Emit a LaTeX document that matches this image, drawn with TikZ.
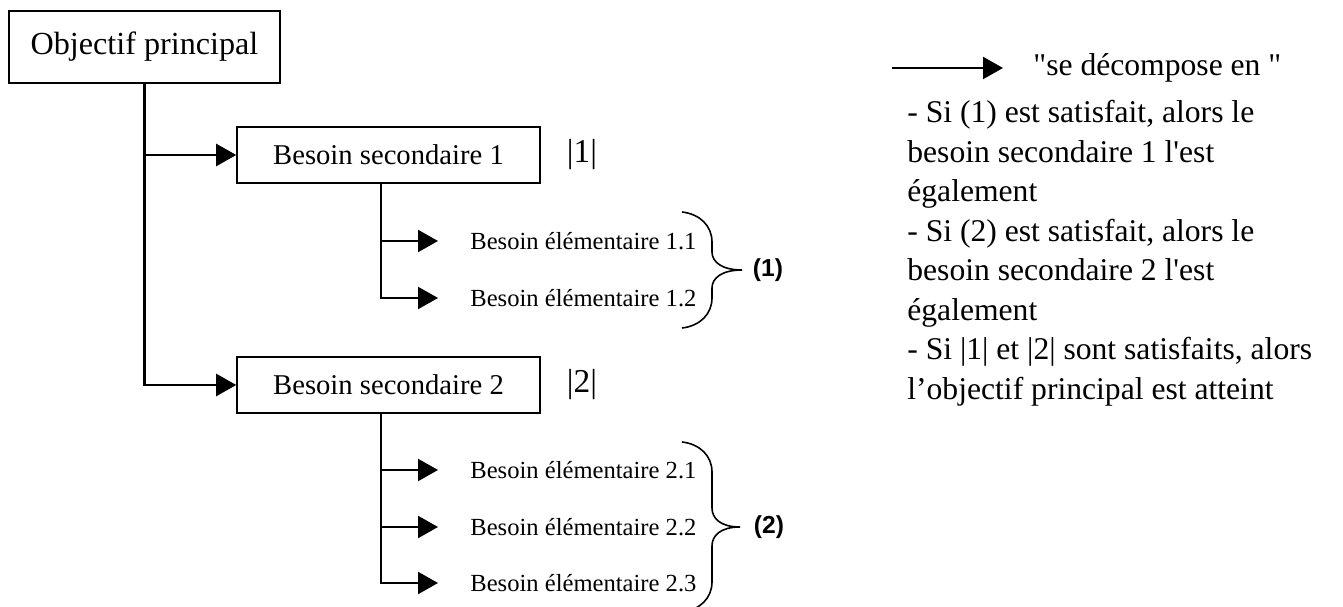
\documentclass[tikz,border=0pt]{standalone}
\usepackage{fontspec}
\setmainfont{Liberation Serif}
\newfontfamily\sansarial{Liberation Sans}
\usetikzlibrary{arrows.meta,positioning}

\tikzset{
   boite/.style = {draw, line width=0.9pt, minimum width=6.06cm, minimum height=1.12cm,
      font=\fontsize{16.3}{19.5}\selectfont},
   fleche/.style = {line width=1.3pt, -{Triangle[length=0.4cm, width=0.44cm]}},
   elem/.style = {anchor=west, inner sep=0pt, font=\fontsize{14}{17}\selectfont},
   accolade/.style = {line width=0.9pt},
   renvoi/.style = {font=\sansarial\bfseries\fontsize{14}{17}\selectfont},
   valeur/.style = {font=\fontsize{19}{22}\selectfont},
}

\begin{document}
\begin{tikzpicture}[x = 0.02cm, y = -0.02cm]
   \useasboundingbox (0,0) rectangle (1343,607);
   \node[boite, minimum width=5.42cm, minimum height=1.44cm, font=\fontsize{18.3}{22}\selectfont] (obj) at (144.5,47) {Objectif principal};
   \node[boite] (bs1) at (388.5,155) {Besoin secondaire 1};
   \node[boite] (bs2) at (388.5,385) {Besoin secondaire 2};
   \node[valeur] (v1) at (582,155) {|1|};
   \node[valeur] (v2) at (582,385) {|2|};
   \node[elem] (be11) at (470,241) {Besoin élémentaire 1.1};
   \node[elem] (be12) at (470,298) {Besoin élémentaire 1.2};
   \node[elem] (be21) at (470,470) {Besoin élémentaire 2.1};
   \node[elem] (be22) at (470,527) {Besoin élémentaire 2.2};
   \node[elem] (be23) at (470,583) {Besoin élémentaire 2.3};
   \node[renvoi] (r1) at (768,270) {(1)};
   \node[renvoi] (r2) at (769,527) {(2)};
   \draw[fleche] (obj) |- (bs1);
   \draw[fleche] (obj) |- (bs2);
   \draw[fleche] ([xshift=-0.15cm]bs1.south) |- ([xshift=-0.64cm]be11.west);
   \draw[fleche] ([xshift=-0.15cm]bs1.south) |- ([xshift=-0.64cm]be12.west);
   \draw[fleche] ([xshift=-0.15cm]bs2.south) |- ([xshift=-0.64cm]be21.west);
   \draw[fleche] ([xshift=-0.15cm]bs2.south) |- ([xshift=-0.64cm]be22.west);
   \draw[fleche] ([xshift=-0.15cm]bs2.south) |- ([xshift=-0.64cm]be23.west);
   \draw[accolade] (682,212) .. controls (700,214) and (712,226) .. (712,242) -- (712,252)
      .. controls (712,262) and (722,270) .. (742,270)
      .. controls (722,270) and (712,278) .. (712,288) -- (712,298)
      .. controls (712,314) and (700,326) .. (682,328);
   \draw[accolade] (682,442) .. controls (700,444) and (712,456) .. (712,472) -- (712,508)
      .. controls (712,518) and (720,527) .. (740,527)
      .. controls (720,527) and (712,536) .. (712,546) -- (712,582)
      .. controls (712,598) and (700,610) .. (682,612);
   \coordinate (lg) at (892,68);
   \node[anchor=west, inner sep=0pt, font=\fontsize{18}{22.5}\selectfont] (dec) at (1033,68) {\textquotedbl se décompose en \textquotedbl};
   \draw[fleche] (lg) -- ([xshift=-0.6cm]dec.west);
   \node[anchor=north west, inner sep=0pt, align=left, font=\fontsize{18}{22.5}\selectfont] (texte) at (907,100)
      {- Si (1) est satisfait, alors le\\
       besoin secondaire 1 l\textquotesingle est\\
       également\\
       - Si (2) est satisfait, alors le\\
       besoin secondaire 2 l\textquotesingle est\\
       également\\
       - Si |1| et |2| sont satisfaits, alors\\
       l'objectif principal est atteint};
\end{tikzpicture}
\end{document}
